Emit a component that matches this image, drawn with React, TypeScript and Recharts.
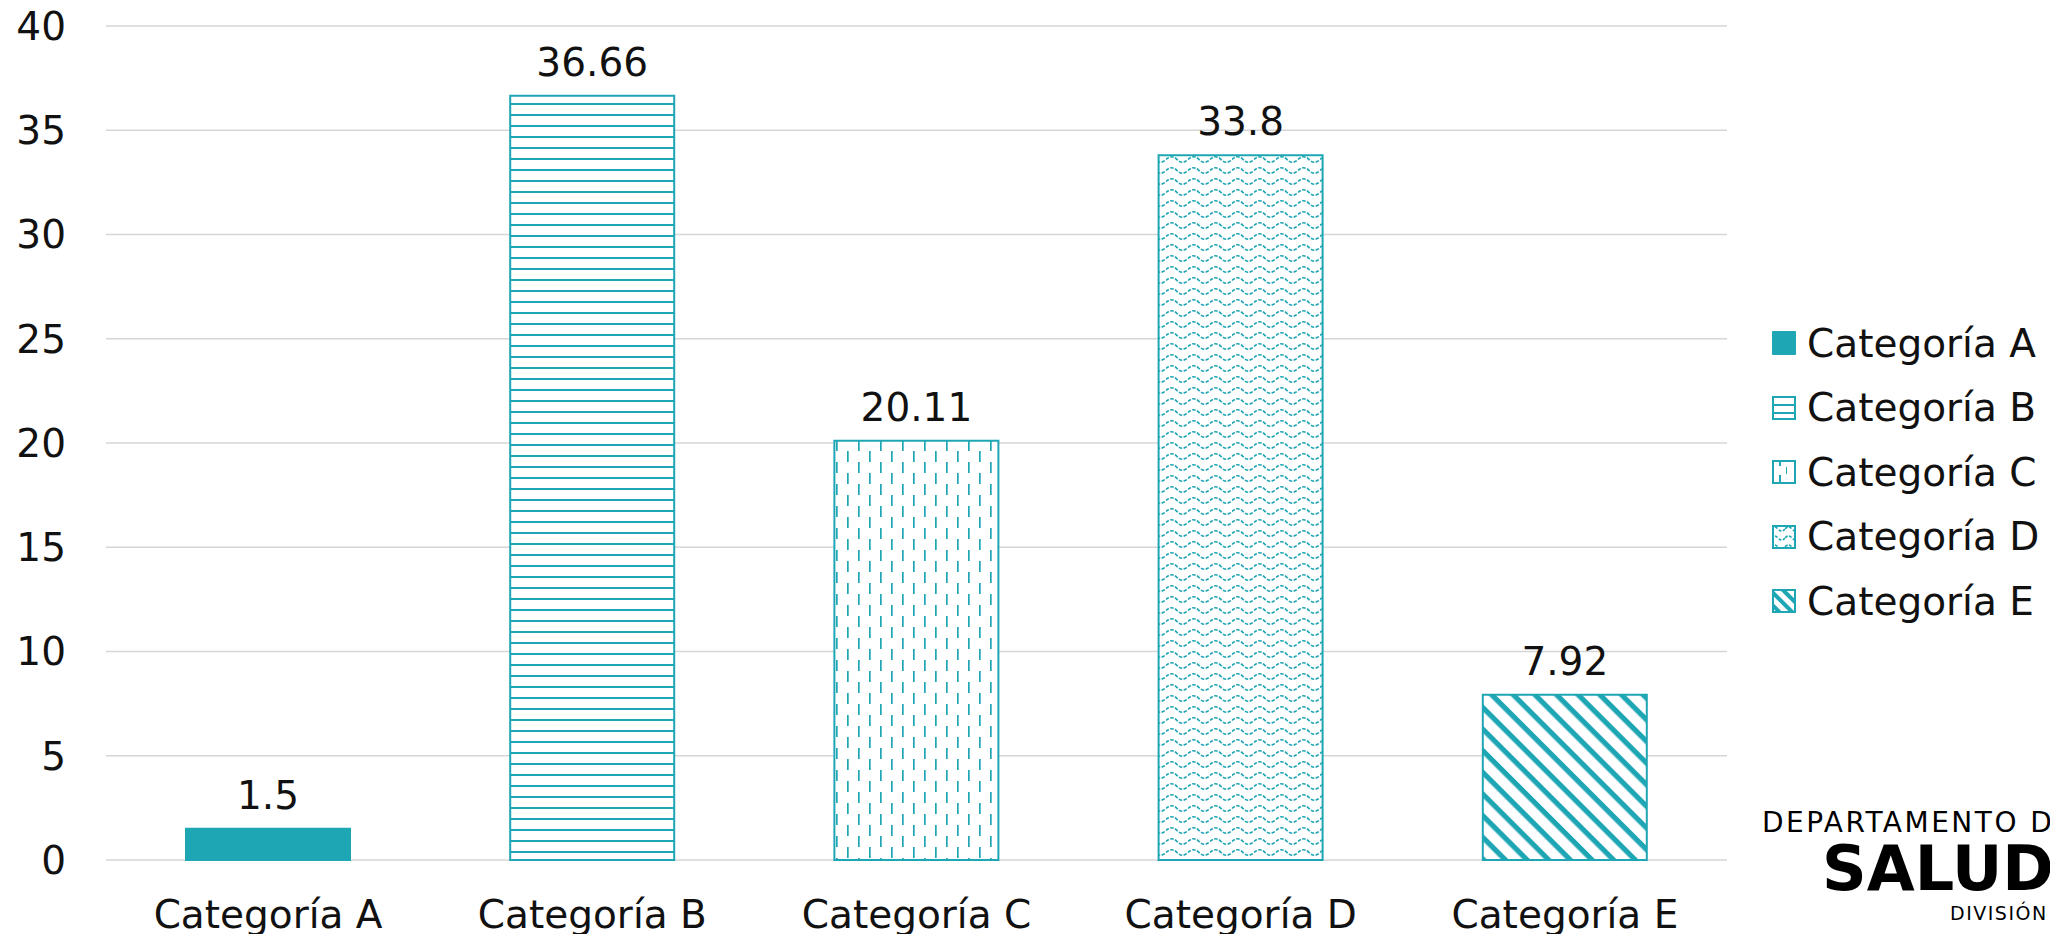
import React from 'react';
import { BarChart, Bar, XAxis, YAxis, CartesianGrid, Legend, LabelList, Cell } from 'recharts';

const categories = ['Categoría A', 'Categoría B', 'Categoría C', 'Categoría D', 'Categoría E'];
const values = [1.5, 36.66, 20.11, 33.8, 7.92];
const yTicks = [0, 5, 10, 15, 20, 25, 30, 35, 40];
const fillIds = ['solid', 'patB', 'patC', 'patD', 'patE'];

const TEAL = '#1FA6B4';
const FONT = '"DejaVu Sans", sans-serif';
const TEXT = '#111111';

const data = categories.map((name, i) => ({ name, value: values[i] }));

const fillFor = (id: string) => (id === 'solid' ? TEAL : `url(#${id})`);

const LegendIcon = ({ idx }: { idx: number }) => {
  const k = `lg${idx}`;
  if (idx === 0) {
    return <rect x={1} y={1} width={24} height={24} rx={1} fill={TEAL} />;
  }
  let pat: React.ReactNode = null;
  if (idx === 1) {
    pat = (
      <pattern id={k} patternUnits="userSpaceOnUse" width={26} height={8}>
        <rect width={26} height={8} fill="#fff" />
        <rect x={0} y={1} width={26} height={2} fill={TEAL} />
      </pattern>
    );
  } else if (idx === 2) {
    pat = (
      <pattern id={k} patternUnits="userSpaceOnUse" width={16} height={16}>
        <rect width={16} height={16} fill="#fff" />
        <rect x={8} y={0} width={2} height={7} fill={TEAL} />
        <rect x={15} y={8} width={2} height={7} fill={TEAL} />
      </pattern>
    );
  } else if (idx === 3) {
    pat = (
      <pattern id={k} patternUnits="userSpaceOnUse" width={14} height={9}>
        <rect width={14} height={9} fill="#fff" />
        <path d="M0 5 Q3.5 1 7 5 T14 5" fill="none" stroke={TEAL} strokeWidth={1.6} strokeDasharray="3 1.5" />
      </pattern>
    );
  } else {
    pat = (
      <pattern id={k} patternUnits="userSpaceOnUse" width={9} height={9} patternTransform="rotate(45)">
        <rect width={9} height={9} fill="#fff" />
        <rect x={0} y={0} width={9} height={4} fill={TEAL} />
      </pattern>
    );
  }
  return (
    <>
      <defs>{pat}</defs>
      <rect x={2} y={2} width={22} height={22} fill={`url(#${k})`} stroke={TEAL} strokeWidth={2} />
    </>
  );
};

const renderLegend = () => (
  <div style={{ fontFamily: FONT, fontSize: 39, color: TEXT }}>
    {categories.map((c, i) => (
      <div key={c} style={{ height: 64.5, display: 'flex', alignItems: 'center' }}>
        <svg width={26} height={26} style={{ marginRight: 10, flex: 'none' }}>
          <LegendIcon idx={i} />
        </svg>
        <span style={{ lineHeight: 1, whiteSpace: 'nowrap' }}>{c}</span>
      </div>
    ))}
  </div>
);

export default function App() {
  return (
    <div
      style={{
        position: 'absolute',
        left: 0,
        top: 0,
        width: 2050,
        height: 934,
        overflow: 'hidden',
        background: '#fff',
        fontFamily: FONT,
      }}
    >
      <BarChart
        width={2050}
        height={934}
        data={data}
        margin={{ top: 26, right: 323, bottom: 0, left: 0 }}
      >
        <defs>
          <pattern id="patB" patternUnits="userSpaceOnUse" width={11} height={11}>
            <rect width={11} height={11} fill="#fff" />
            <rect x={0} y={4} width={11} height={2} fill={TEAL} />
          </pattern>
          <pattern id="patC" patternUnits="userSpaceOnUse" width={22} height={22}>
            <rect width={22} height={22} fill="#fff" />
            <rect x={0} y={0} width={1.7} height={11} fill={TEAL} />
            <rect x={11} y={11} width={1.7} height={11} fill={TEAL} />
          </pattern>
          <pattern id="patD" patternUnits="userSpaceOnUse" width={22} height={11}>
            <rect width={22} height={11} fill="#fff" />
            <path
              d="M0 5.5 Q5.5 0 11 5.5 T22 5.5"
              fill="none"
              stroke={TEAL}
              strokeWidth={1.7}
              strokeDasharray="3.5 1.5"
            />
          </pattern>
          <pattern
            id="patE"
            patternUnits="userSpaceOnUse"
            width={15.3}
            height={15.3}
            patternTransform="rotate(45)"
          >
            <rect width={15.3} height={15.3} fill="#fff" />
            <rect x={0} y={0} width={15.3} height={5.2} fill={TEAL} />
          </pattern>
        </defs>
        <CartesianGrid vertical={false} stroke="#D6D6D6" strokeWidth={1.6} />
        <XAxis
          dataKey="name"
          axisLine={false}
          tickLine={false}
          tickSize={0}
          tickMargin={40}
          height={74}
          interval={0}
          tick={{ fontSize: 39, fill: TEXT, fontFamily: FONT }}
        />
        <YAxis
          domain={[0, 40]}
          ticks={yTicks}
          axisLine={false}
          tickLine={false}
          tickSize={0}
          tickMargin={40}
          width={106}
          tick={{ fontSize: 39, fill: TEXT, fontFamily: FONT }}
        />
        <Legend
          layout="vertical"
          align="center"
          verticalAlign="middle"
          content={renderLegend}
          wrapperStyle={{ left: 1771, top: 311, width: 279 }}
        />
        <Bar dataKey="value" barSize={164} stroke={TEAL} strokeWidth={2} isAnimationActive={false}>
          {data.map((d, i) => (
            <Cell key={d.name} fill={fillFor(fillIds[i])} />
          ))}
          <LabelList
            dataKey="value"
            position="top"
            offset={20}
            fill={TEXT}
            fontSize={39}
            fontFamily={FONT}
          />
        </Bar>
      </BarChart>
      <div
        style={{
          position: 'absolute',
          left: 1762,
          top: 809,
          fontSize: 28,
          lineHeight: 1,
          letterSpacing: 2.5,
          whiteSpace: 'nowrap',
          color: '#000',
        }}
      >
        DEPARTAMENTO DE
      </div>
      <div
        style={{
          position: 'absolute',
          left: 1822,
          top: 838,
          fontSize: 62,
          fontWeight: 700,
          lineHeight: 1,
          whiteSpace: 'nowrap',
          color: '#000',
        }}
      >
        SALUD
      </div>
      <div
        style={{
          position: 'absolute',
          left: 1950,
          top: 904,
          fontSize: 19,
          lineHeight: 1,
          letterSpacing: 1.5,
          whiteSpace: 'nowrap',
          color: '#000',
        }}
      >
        DIVISIÓN
      </div>
    </div>
  );
}
